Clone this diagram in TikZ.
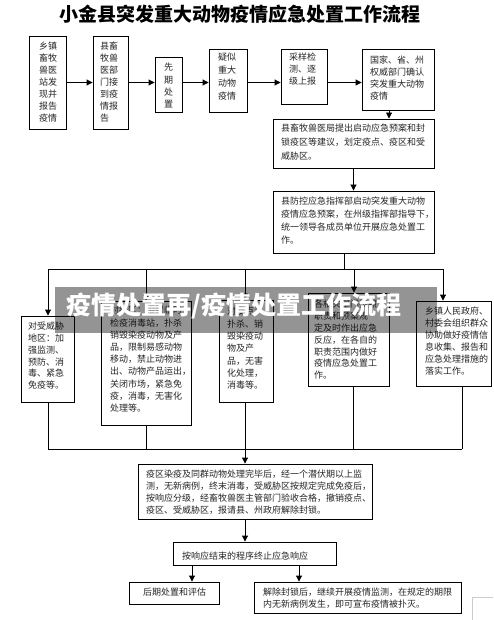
\documentclass[tikz,border=0pt]{standalone}
\usepackage{fontspec}
\setmainfont{Noto Sans CJK SC}
\usetikzlibrary{arrows.meta,fit,calc}
\tikzset{
  box/.style={draw=black, line width=0.9pt, inner sep=0pt, fill=white},
  txt/.style={inner sep=0pt, anchor=north west, align=left, text=black!85},
  arr/.style={line width=0.9pt, -{Triangle[length=6pt,width=6pt]}},
  ln/.style={line width=0.9pt},
}
\newcommand{\fs}[1]{\fontsize{9}{#1}\selectfont}
\begin{document}
\begin{tikzpicture}[x=1pt,y=-1pt]
\useasboundingbox[fill=white] (0,0) rectangle (493,620);

\node[font=\fontsize{19}{21}\selectfont\bfseries] (title) at (240,14) {小金县突发重大动物疫情应急处置工作流程};

% top row
\node[box, fit={(29,36) (66,129)}] (b1) {};
\node[box, fit={(93,36) (128,129)}] (b2) {};
\node[box, fit={(155,57) (182,112)}] (b3) {};
\node[box, fit={(209,49) (247,112)}] (b4) {};
\node[box, fit={(281,49) (327,104)}] (b5) {};
\node[box, fit={(362,49) (434,110)}] (b6) {};
\node[box, fit={(273,119) (434,168)}] (b7) {};
\node[box, fit={(273,191) (434,253)}] (b8) {};

\node[txt, font=\fs{11.9}] (t1) at (39,42) {乡镇\\畜牧\\兽医\\站发\\现并\\报告\\疫情};
\node[txt, font=\fs{11.9}] (t2) at (100,42) {县畜\\牧兽\\医部\\门接\\到疫\\情报\\告};
\node[txt, font=\fs{12.3}] (t3) at (164,63) {先\\期\\处\\置};
\node[txt, font=\fs{12.8}] (t4) at (218,53) {疑似\\重大\\动物\\疫情};
\node[txt, font=\fs{12}] (t5) at (289,53) {采样检\\测、逐\\级上报};
\node[txt, font=\fs{12}] (t6) at (370,56) {国家、省、州\\权威部门确认\\突发重大动物\\疫情};
\node[txt, font=\fs{13.8}] (t7) at (281,124) {县畜牧兽医局提出启动应急预案和封\\锁疫区等建议，划定疫点、疫区和受\\威胁区。};
\node[txt, font=\fs{12.9}] (t8) at (281,197) {县防控应急指挥部启动突发重大动物\\疫情应急预案，在州级指挥部指导下，\\统一领导各成员单位开展应急处置工\\作。};

% third row
\node[box, fit={(21,316) (74,402)}] (bA) {};
\node[box, fit={(101,301) (191,425)}] (bB) {};
\node[box, fit={(219,300) (273,402)}] (bC) {};
\node[box, fit={(308,293) (389,386)}] (bD) {};
\node[box, fit={(416,301) (491,386)}] (bE) {};

\node[txt, font=\fs{11.8}] (tA) at (28,322) {对受威胁\\地区：加\\强监测、\\预防、消\\毒、紧急\\免疫等。};
\node[txt, font=\fs{12.2}] (tB) at (110,306) {对疫区：设置临时\\检疫消毒站，扑杀\\销毁染疫动物及产\\品，限制易感动物\\移动，禁止动物进\\出、动物产品运出，\\关闭市场，紧急免\\疫，消毒，无害化\\处理等。};
\node[txt, font=\fs{12.3}] (tC) at (227,307) {对疫点：\\扑杀、销\\毁染疫动\\物及产\\品，无害\\化处理，\\消毒等。};
\node[txt, font=\fs{11.8}] (tD) at (314,300) {各相关部门按照\\职责和预案规\\定及时作出应急\\反应，在各自的\\职责范围内做好\\疫情应急处置工\\作。};
\node[txt, font=\fs{12}] (tE) at (425,307) {乡镇人民政府、\\村委会组织群众\\协助做好疫情信\\息收集、报告和\\应急处理措施的\\落实工作。};

% lower boxes
\node[box, fit={(138,464) (372,519)}] (bF) {};
\node[box, fit={(173,542) (336,565)}] (bG) {};
\node[box, fit={(129,582) (219,604)}] (bH) {};
\node[box, fit={(254,582) (461,613)}] (bI) {};

\node[txt, font=\fs{12}] (tF) at (146,470) {疫区染疫及同群动物处理完毕后，经一个潜伏期以上监\\测，无新病例，终末消毒，受威胁区按规定完成免疫后，\\按响应分级，经畜牧兽医主管部门验收合格，撤销疫点、\\疫区、受威胁区，报请县、州政府解除封锁。};
\node[txt, font=\fs{12}] (tG) at (182,552) {按响应结束的程序终止应急响应};
\node[txt, font=\fs{12}] (tH) at (143,588) {后期处置和评估};
\node[txt, font=\fs{12}] (tI) at (263,588) {解除封锁后，继续开展疫情监测，在规定的期限\\内无新病例发生，即可宣布疫情被扑灭。};

% top row connectors
\draw[arr] (b1.east) -- (b2.west);
\draw[arr] (b2.east) -- (b2.east -| b3.west);
\draw[arr] (b3.east |- b2.east) -- (b4.west |- b2.east);
\draw[arr] (b4.east |- b2.east) -- (b5.west |- b2.east);
\draw[arr] (b5.east |- b2.east) -- (b6.west |- b2.east);
\draw[arr] ([xshift=-9pt]b6.south) -- ([xshift=-9pt]b6.south |- b7.north);
\draw[arr] (b7.south) -- (b8.north);

% distribution
\coordinate (jT) at (344,269);
\coordinate (jA) at (48,269);
\coordinate (jB) at (146,269);
\coordinate (jC) at (245,269);
\coordinate (jD) at (354,269);
\coordinate (jE) at (443,269);
\draw[ln] (jT |- b8.south) -- (jT);
\draw[ln] (jA) -- (jE);
\draw[arr] (jA) -- (jA |- bA.north);
\draw[arr] (jB) -- (jB |- bB.north);
\draw[arr] (jC) -- (jC |- bC.north);
\draw[arr] (jD) -- (jD |- bD.north);
\draw[arr] (jE) -- (jE |- bE.north);

% collection
\coordinate (kA) at (48,449);
\coordinate (kB) at (146,449);
\coordinate (kC) at (245,449);
\coordinate (kD) at (353,449);
\coordinate (kE) at (462,449);
\draw[ln] (kA |- bA.south) -- (kA);
\draw[ln] (kB |- bB.south) -- (kB);
\draw[ln] (kC |- bC.south) -- (kC);
\draw[ln] (kD |- bD.south) -- (kD);
\draw[ln] (kE |- bE.south) -- (kE);
\draw[ln] (kA) -- (kE);
\draw[arr] (kC) -- (kC |- bF.north);
\draw[arr] (kC |- bF.south) -- (kC |- bG.north);
\coordinate (gH) at (192,0);
\coordinate (gI) at (299,0);
\draw[arr] (gH |- bG.south) -- (gH |- bH.north);
\draw[arr] (gI |- bG.south) -- (gI |- bI.north);

% faint corner
\draw[black!20, line width=0.8pt] (472,620) -- (472,597) -- (493,597);

% banner overlay (semi-transparent)
\node[fit={(55,287) (437,333)}, inner sep=0pt, fill=black, fill opacity=0.42] (banner) {};
\node[text=white, font=\fontsize{25}{26}\selectfont\bfseries, inner sep=0pt] (bannertext) at (234,306) {疫情处置再/疫情处置工作流程};
\end{tikzpicture}
\end{document}
